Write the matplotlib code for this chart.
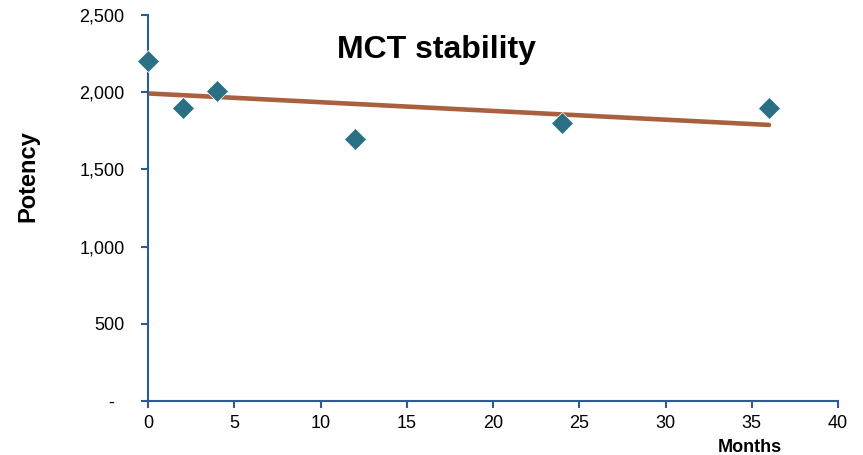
import matplotlib.pyplot as plt
import numpy as np
from matplotlib.ticker import FuncFormatter

plt.rcParams['font.family'] = ['Liberation Sans', 'DejaVu Sans']

# stability data
months = [0, 2, 4, 12, 24, 36]
potency = [2200, 1900, 2010, 1700, 1800, 1900]

x_ticks = [0, 5, 10, 15, 20, 25, 30, 35, 40]
y_ticks = [0, 500, 1000, 1500, 2000, 2500]

axis_col = '#2E5A96'
point_col = '#2A7084'
trend_col = '#A9603E'

fig = plt.figure(figsize=(8.63, 4.55), dpi=100)
ax = fig.add_axes([148/863, 1 - 401/455, (838 - 148)/863, (401 - 15)/455])

# linear trendline over the measured range
slope, icpt = np.polyfit(months, potency, 1)
xt = np.array([min(months), max(months)])
ax.plot(xt, slope*xt + icpt, color=trend_col, lw=3.3, solid_capstyle='round', zorder=2)

ax.plot(months, potency, 'D', color=point_col, ms=11, mec='white', mew=0.5, zorder=3, clip_on=False)

ax.set_xlim(0, 40)
ax.set_ylim(0, 2500)
ax.set_xticks(x_ticks)
ax.set_yticks(y_ticks)
# accounting-style labels: zero shown as a dash
ax.yaxis.set_major_formatter(FuncFormatter(lambda v, p: '-  ' if v == 0 else f'{v:,.0f}'))

for s in ['top', 'right']:
    ax.spines[s].set_visible(False)
for s in ['left', 'bottom']:
    ax.spines[s].set_color(axis_col)
    ax.spines[s].set_linewidth(1.5)
ax.tick_params(direction='out', length=5, width=1.5, color=axis_col, labelsize=13)
ax.tick_params(axis='y', pad=12)
ax.tick_params(axis='x', pad=5)

fig.text(436/863, 1 - 50/455, 'MCT stability', fontsize=23, fontweight='bold', ha='center', va='center')
fig.text(750/863, 1 - 447/455, 'Months', fontsize=13, fontweight='bold', ha='center', va='center')
fig.text(28/863, 1 - 176/455, 'Potency', fontsize=17, fontweight='bold', rotation=90, ha='center', va='center')

fig.savefig('out.png', dpi=100)
